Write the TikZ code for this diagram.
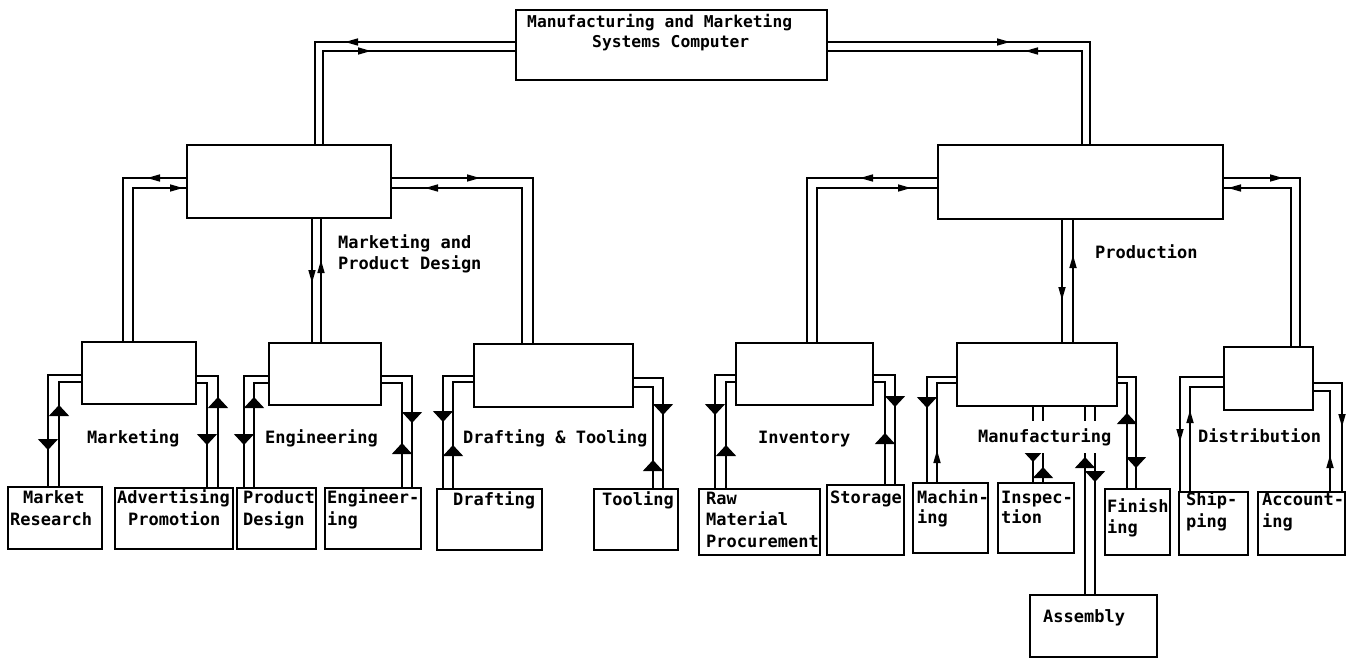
\documentclass[tikz,border=0pt]{standalone}
\usepackage{fontspec}
\newfontfamily\dmfont{DejaVu Sans Mono}
\usetikzlibrary{arrows.meta,decorations.markings}
\tikzset{
  box/.style={draw, line width=1.8pt, inner sep=0pt, outer sep=0pt, anchor=north west},
  txt/.style={font=\dmfont\bfseries\fontsize{17}{20}\selectfont, inner sep=0pt, anchor=base west},
  toptxt/.style={txt, font=\dmfont\bfseries\fontsize{16.3}{20}\selectfont},
  conn/.style={line width=1.6pt},
  bigat/.style={postaction={decorate,decoration={markings,mark=at position #1pt with {\arrow{Triangle[width=20pt,length=11pt]}}}}},
  thinat/.style={postaction={decorate,decoration={markings,mark=at position #1pt with {\arrow{Triangle[width=7pt,length=13pt]}}}}}
}
\begin{document}
\begin{tikzpicture}[x=1pt,y=-1pt]
\useasboundingbox[fill=white] (0,0) rectangle (1352,659);
% level 1 and 2 boxes
\node[box, minimum width=311pt, minimum height=70pt] (top) at (516,10) {};
\node[box, minimum width=204pt, minimum height=73pt] (mpd) at (187,145) {};
\node[box, minimum width=285pt, minimum height=74pt] (prod) at (938,145) {};
% level 3
\node[box, minimum width=114pt, minimum height=62pt] (mk) at (82,342) {};
\node[box, minimum width=112pt, minimum height=62pt] (en) at (269,343) {};
\node[box, minimum width=159pt, minimum height=63pt] (dt) at (474,344) {};
\node[box, minimum width=137pt, minimum height=62pt] (inv) at (736,343) {};
\node[box, minimum width=160pt, minimum height=63pt] (mf) at (957,343) {};
\node[box, minimum width=89pt, minimum height=63pt] (ds) at (1224,347) {};
% level 4
\node[box, minimum width=94pt, minimum height=62pt] (mr) at (8,487) {};
\node[box, minimum width=118pt, minimum height=61pt] (ap) at (115,488) {};
\node[box, minimum width=79pt, minimum height=61pt] (pd) at (237,488) {};
\node[box, minimum width=96pt, minimum height=61pt] (eg) at (325,488) {};
\node[box, minimum width=105pt, minimum height=61pt] (dr) at (437,489) {};
\node[box, minimum width=84pt, minimum height=61pt] (tl) at (594,489) {};
\node[box, minimum width=121pt, minimum height=66pt] (rm) at (699,489) {};
\node[box, minimum width=77pt, minimum height=70pt] (st) at (827,485) {};
\node[box, minimum width=75pt, minimum height=70pt] (mc) at (913,483) {};
\node[box, minimum width=76pt, minimum height=70pt] (ip) at (998,483) {};
\node[box, minimum width=65pt, minimum height=66pt] (fn) at (1105,489) {};
\node[box, minimum width=69pt, minimum height=63pt] (sh) at (1179,492) {};
\node[box, minimum width=87pt, minimum height=63pt] (ac) at (1258,492) {};
\node[box, minimum width=127pt, minimum height=62pt] (as) at (1030,595) {};

% top -> level 2
\draw[conn, thinat=171] (top.west |- 0,42) -| (315,0 |- mpd.north);
\draw[conn, thinat=142] (323,0 |- mpd.north) |- (top.west |- 0,51);
\draw[conn, thinat=183] (top.east |- 0,42) -| (1090,0 |- prod.north);
\draw[conn, thinat=151] (1082,0 |- prod.north) |- (top.east |- 0,51);
% mpd -> level 3
\draw[conn, thinat=40] (mpd.west |- 0,178) -| (123,0 |- mk.north);
\draw[conn, thinat=204] (133,0 |- mk.north) |- (mpd.west |- 0,188);
\draw[conn, thinat=89] (mpd.east |- 0,178) -| (533,0 |- dt.north);
\draw[conn, thinat=253] (522,0 |- dt.north) |- (mpd.east |- 0,188);
\draw[conn, thinat=65] (312,0 |- mpd.south) -- (312,0 |- en.north);
\draw[conn, thinat=83] (321,0 |- en.north) -- (321,0 |- mpd.south);
% prod -> level 3
\draw[conn, thinat=78] (prod.west |- 0,178) -| (807,0 |- inv.north);
\draw[conn, thinat=249] (817,0 |- inv.north) |- (prod.west |- 0,188);
\draw[conn, thinat=60] (prod.east |- 0,178) -| (1300,0 |- ds.north);
\draw[conn, thinat=222] (1291,0 |- ds.north) |- (prod.east |- 0,188);
\draw[conn, thinat=81] (1062,0 |- prod.south) -- (1062,0 |- mf.north);
\draw[conn, thinat=88] (1073,0 |- mf.north) -- (1073,0 |- prod.south);
% marketing
\draw[conn, bigat=109] (mk.west |- 0,375) -| (48,0 |- mr.north);
\draw[conn, bigat=82] (59,0 |- mr.north) |- (mk.west |- 0,382);
\draw[conn, bigat=91] (218,0 |- ap.north) |- (mk.east |- 0,376);
\draw[conn, bigat=73] (mk.east |- 0,383) -| (207,0 |- ap.north);
% engineering
\draw[conn, bigat=94] (en.west |- 0,376) -| (244,0 |- pd.north);
\draw[conn, bigat=91] (254,0 |- pd.north) |- (en.west |- 0,383);
\draw[conn, bigat=78] (en.east |- 0,376) -| (412,0 |- eg.north);
\draw[conn, bigat=45] (402,0 |- eg.north) |- (en.east |- 0,383);
% drafting & tooling
\draw[conn, bigat=77] (dt.west |- 0,376) -| (443,0 |- dr.north);
\draw[conn, bigat=44] (453,0 |- dr.north) |- (dt.west |- 0,382);
\draw[conn, bigat=67] (dt.east |- 0,378) -| (663,0 |- tl.north);
\draw[conn, bigat=29] (653,0 |- tl.north) |- (dt.east |- 0,387);
% inventory
\draw[conn, bigat=61] (inv.west |- 0,375) -| (715,0 |- rm.north);
\draw[conn, bigat=44] (726,0 |- rm.north) |- (inv.west |- 0,382);
\draw[conn, bigat=54] (inv.east |- 0,375) -| (895,0 |- st.north);
\draw[conn, bigat=52] (885,0 |- st.north) |- (inv.east |- 0,382);
% manufacturing
\draw[conn, bigat=61] (mf.west |- 0,377) -| (927,0 |- mc.north);
\draw[conn, thinat=33] (937,0 |- mc.north) |- (mf.west |- 0,383);
\draw[conn, bigat=110] (mf.east |- 0,377) -| (1136,0 |- fn.north);
\draw[conn, bigat=76] (1127,0 |- fn.north) |- (mf.east |- 0,383);
\draw[conn, bigat=56] (1033,0 |- mf.south) -- (1033,0 |- ip.north);
\draw[conn, bigat=16] (1043,0 |- ip.north) -- (1043,0 |- mf.south);
\draw[conn, bigat=138] (1085,0 |- as.north) -- (1085,0 |- mf.south);
\draw[conn, bigat=76] (1095,0 |- mf.south) -- (1095,0 |- as.north);
% distribution
\draw[conn, thinat=109] (ds.west |- 0,377) -| (1180,0 |- sh.north);
\draw[conn, thinat=82] (1190,0 |- sh.north) |- (ds.west |- 0,387);
\draw[conn, thinat=73] (ds.east |- 0,383) -| (1342,0 |- ac.north);
\draw[conn, thinat=37] (1330,0 |- ac.north) |- (ds.east |- 0,391);

% texts
\node[toptxt] (t1a) at (527,27) {Manufacturing and Marketing};
\node[toptxt] (t1b) at (592,47) {Systems Computer};
\node[txt] (l2a) at (338,248) {Marketing and};
\node[txt] (l2b) at (338,269) {Product Design};
\node[txt] (l2c) at (1095,258) {Production};
\node[txt] (l3a) at (87,443) {Marketing};
\node[txt] (l3b) at (265,443) {Engineering};
\node[txt] (l3c) at (463,443) {Drafting \& Tooling};
\node[txt] (l3d) at (758,443) {Inventory};
\node[txt, fill=white, inner ysep=7pt] (l3e) at (978,442) {Manufacturing};
\node[txt] (l3f) at (1198,442) {Distribution};
\node[txt] at (23,503) {Market};
\node[txt] at (10,525) {Research};
\node[txt] at (117,503) {Advertising};
\node[txt] at (128,525) {Promotion};
\node[txt] at (243,503) {Product};
\node[txt] at (243,525) {Design};
\node[txt] at (327,503) {Engineer-};
\node[txt] at (327,525) {ing};
\node[txt] at (453,505) {Drafting};
\node[txt] at (602,505) {Tooling};
\node[txt] at (706,504) {Raw};
\node[txt] at (706,525) {Material};
\node[txt] at (706,547) {Procurement};
\node[txt] at (830,503) {Storage};
\node[txt] at (917,503) {Machin-};
\node[txt] at (917,523) {ing};
\node[txt] at (1001,503) {Inspec-};
\node[txt] at (1001,523) {tion};
\node[txt] at (1107,512) {Finish};
\node[txt] at (1107,533) {ing};
\node[txt] at (1186,505) {Ship-};
\node[txt] at (1186,527) {ping};
\node[txt] at (1262,505) {Account-};
\node[txt] at (1262,527) {ing};
\node[txt] at (1043,622) {Assembly};
\end{tikzpicture}
\end{document}
